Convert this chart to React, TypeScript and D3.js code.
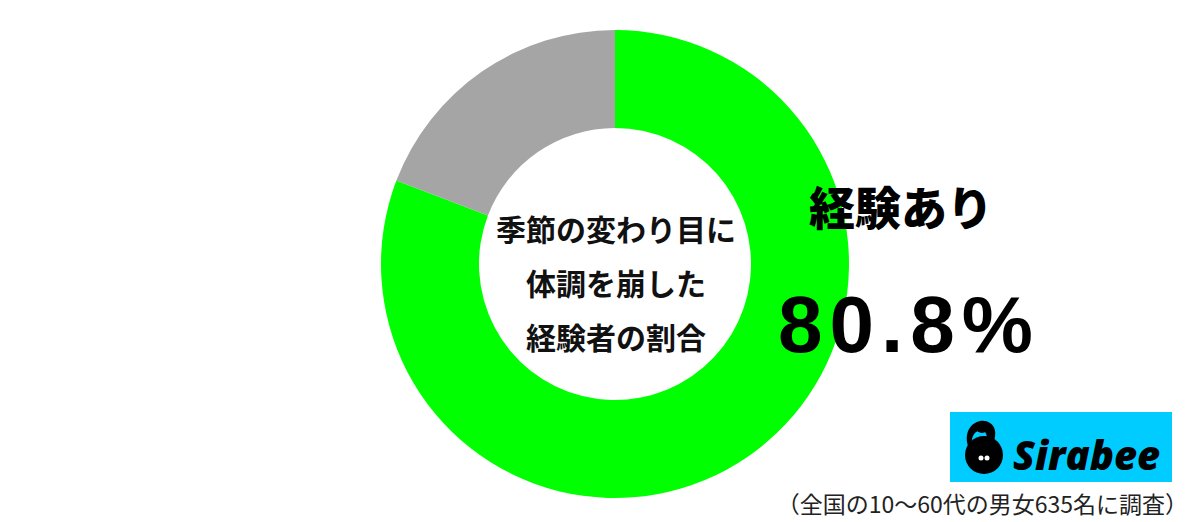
import React from "react";
import * as d3 from "d3";

const categories = ["経験あり", "経験なし"];
const values = [80.8, 19.2];
const colors = ["#00ff00", "#a5a5a5"];
const centerLines = ["季節の変わり目に", "体調を崩した", "経験者の割合"];
const highlightLabel = "経験あり";
const highlightValue = "80.8%";
const footnote = "（全国の10〜60代の男女635名に調査）";

export default function App() {
  const W = 1200, H = 522;
  const cx = 615, cy = 264, rOuter = 234, rInner = 136;
  const pie = d3.pie<number>().sort(null).value((d) => d)(values);
  const arc = d3.arc<d3.PieArcDatum<number>>().innerRadius(rInner).outerRadius(rOuter);
  const jp = "'Noto Sans CJK JP', 'Noto Sans', sans-serif";
  return (
    <svg width={W} height={H} style={{ position: "absolute", left: 0, top: 0, background: "#fff" }}>
      <g transform={`translate(${cx},${cy})`}>
        {pie.map((p, i) => (
          <path key={categories[i]} d={arc(p) || ""} fill={colors[i]} />
        ))}
      </g>
      {centerLines.map((t, i) => (
        <text key={i} x={cx + 1} y={228 + i * 54} textAnchor="middle" dominantBaseline="central"
          fontFamily={jp} fontWeight={700} fontSize={30} fill="#111">{t}</text>
      ))}
      <text x={901} y={205} textAnchor="middle" dominantBaseline="central" fontFamily={jp} fontWeight={900} fontSize={46} fill="#000">{highlightLabel}</text>
      <text x={909} y={352} textAnchor="middle" fontFamily="'Liberation Sans', Arial, sans-serif" fontWeight={700} fontSize={80} letterSpacing={7} fill="#000">{highlightValue}</text>
      <g>
        <rect x={950} y={412} width={222} height={70} fill="#00ccff" />
        <circle cx={984} cy={455} r={19} fill="#000" />
        <path d="M 972 446 C 970 432, 980 428, 985 432 C 989 436, 985 444, 982 448 L 990 450 C 996 440, 998 428, 990 423 C 980 416, 962 426, 968 446 Z" fill="#000" />
        <circle cx={982} cy={427} r={6} fill="#000" />
        <circle cx={981} cy={458} r={2.5} fill="#fff" />
        <circle cx={987} cy={458} r={2.5} fill="#fff" />
        <text x={1013} y={470} fontFamily="'Open Sans', 'DejaVu Sans', sans-serif" fontStyle="italic" fontWeight={800} fontSize={40} fill="#000">Sirabee</text>
      </g>
      <text x={1188} y={513} textAnchor="end" fontFamily={jp} fontSize={23} fill="#222">{footnote}</text>
    </svg>
  );
}
